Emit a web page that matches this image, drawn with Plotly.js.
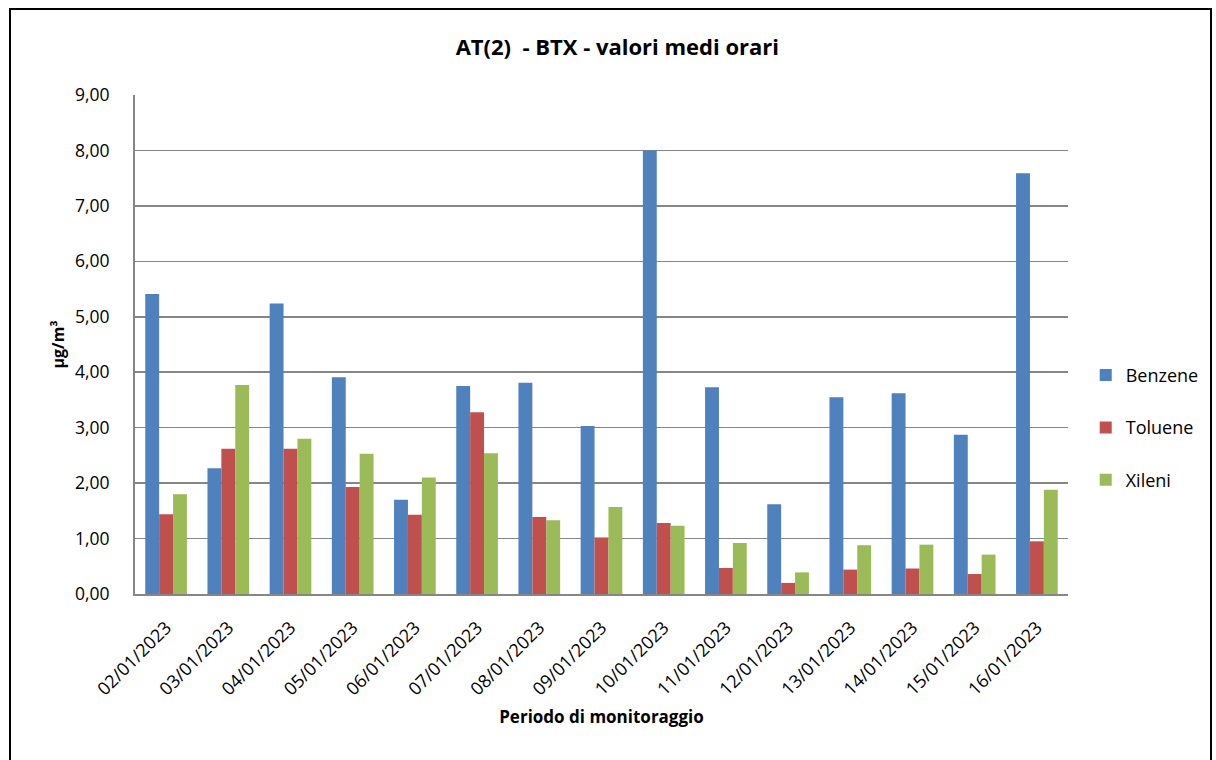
<!DOCTYPE html>
<html>
<head>
<meta charset="utf-8">
<script src="https://cdn.plot.ly/plotly-3.0.1.min.js"></script>
<style>
  body { margin: 0; background: #fff; }
  #chart { width: 1216px; height: 760px; }
  #frame { position: absolute; left: 9px; top: 8px; width: 1203px; height: 760px;
           border: 2px solid #000; pointer-events: none; box-sizing: border-box; }
</style>
</head>
<body>
<div id="chart"></div>
<div id="frame"></div>
<script>
// giorni di monitoraggio
var giorni = ['02/01/2023', '03/01/2023', '04/01/2023', '05/01/2023', '06/01/2023',
  '07/01/2023', '08/01/2023', '09/01/2023', '10/01/2023', '11/01/2023',
  '12/01/2023', '13/01/2023', '14/01/2023', '15/01/2023', '16/01/2023'];

// valori medi orari (µg/m³)
var benzene = [5.41, 2.27, 5.24, 3.91, 1.70, 3.75, 3.81, 3.03, 8.00, 3.73, 1.62, 3.55, 3.62, 2.87, 7.59];
var toluene = [1.44, 2.62, 2.62, 1.93, 1.43, 3.28, 1.39, 1.02, 1.28, 0.47, 0.20, 0.44, 0.46, 0.36, 0.95];
var xileni  = [1.80, 3.77, 2.80, 2.53, 2.10, 2.54, 1.33, 1.57, 1.23, 0.92, 0.39, 0.88, 0.89, 0.71, 1.88];

var yTicks = [0, 1, 2, 3, 4, 5, 6, 7, 8, 9];

var font = "'Open Sans', 'Noto Sans', sans-serif";

function serie(nome, valori, colore) {
  return {
    type: 'bar',
    name: nome,
    x: giorni,
    y: valori,
    legendgroup: nome,
    marker: { color: colore },
    hoverinfo: 'x+y+name'
  };
}

var data = [
  serie('Benzene', benzene, '#4F81BD'),
  serie('Toluene', toluene, '#C0504D'),
  serie('Xileni', xileni, '#9BBB59')
];

var layout = {
  width: 1216,
  height: 760,
  margin: { l: 135, r: 148, t: 95, b: 166, autoexpand: false },
  paper_bgcolor: '#fff',
  plot_bgcolor: '#fff',
  separators: ',.',
  font: { family: font, color: '#000', size: 17 },
  title: {
    text: '<b>AT(2)  - BTX - valori medi orari</b>',
    font: { family: font, size: 22, color: '#000' },
    xref: 'paper', x: 0.517, xanchor: 'center', y: 0.938, yanchor: 'middle'
  },
  barmode: 'group',
  bargap: 0.33,
  bargroupgap: 0,
  xaxis: {
    type: 'category',
    tickangle: -45,
    showline: true,
    linecolor: '#868686',
    linewidth: 2,
    showgrid: false,
    ticks: 'outside',
    ticklen: 14,
    tickcolor: 'rgba(0,0,0,0)',
    tickfont: { family: font, size: 18 },
    title: { text: '<b>Periodo di monitoraggio</b>', font: { family: font, size: 17 }, standoff: 12 }
  },
  yaxis: {
    range: [0, 9],
    tickvals: yTicks,
    tickformat: '.2f',
    showline: true,
    linecolor: '#868686',
    linewidth: 2,
    showgrid: true,
    gridcolor: '#868686',
    gridwidth: 1.5,
    zeroline: false,
    ticks: 'outside',
    ticklen: 20,
    tickcolor: 'rgba(0,0,0,0)',
    tickfont: { family: font, size: 17.5 },
    title: { text: '<b>µg/m³</b>', font: { family: font, size: 16 }, standoff: 6 }
  },
  legend: {
    x: 1.019, xanchor: 'left',
    y: 0.333, yanchor: 'middle',
    font: { family: font, size: 18 },
    tracegroupgap: 26,
    itemwidth: 30,
    bgcolor: 'rgba(0,0,0,0)'
  },
  showlegend: true
};

Plotly.newPlot('chart', data, layout, { displayModeBar: false, staticPlot: true });
</script>
</body>
</html>
